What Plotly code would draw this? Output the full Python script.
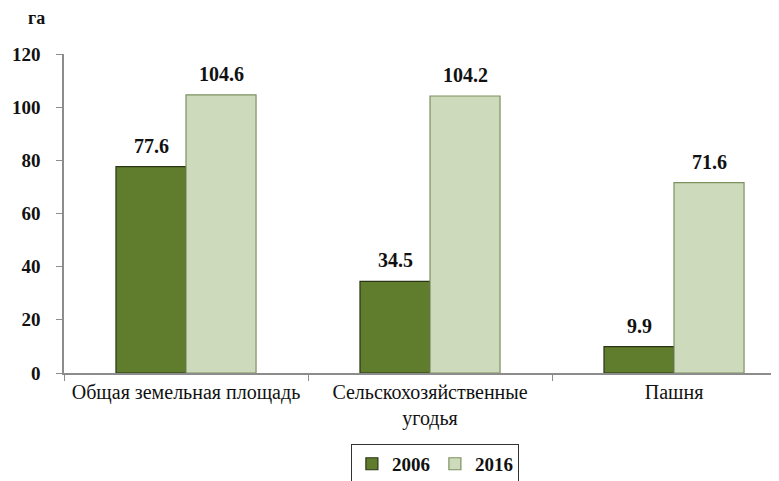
import plotly.graph_objects as go

categories = ["Общая земельная площадь", "Сельскохозяйственные<br>угодья", "Пашня"]
values_2006 = [77.6, 34.5, 9.9]
values_2016 = [104.6, 104.2, 71.6]
y_ticks = [0, 20, 40, 60, 80, 100, 120]

serif = "Times New Roman, Liberation Serif, serif"

fig = go.Figure()
fig.add_trace(go.Bar(
    x=categories, y=values_2006, name="2006",
    marker=dict(color="#5f7d2d", line=dict(color="#2b3516", width=1.2)),
))
fig.add_trace(go.Bar(
    x=categories, y=values_2016, name="2016",
    marker=dict(color="#cddabb", line=dict(color="#7d9160", width=1.2)),
))

# value labels above the bars
annotations = []
for shift, vals in ((-35, values_2006), (35, values_2016)):
    for cat, v in zip(categories, vals):
        annotations.append(dict(
            x=cat, y=v, xref="x", yref="y", text=f"<b>{v:.1f}</b>",
            showarrow=False, xshift=shift, yshift=21,
            font=dict(family=serif, size=20, color="#111"),
        ))
annotations.append(dict(
    x=-0.0387, y=1.113, xref="paper", yref="paper", text="<b>га</b>",
    showarrow=False, xanchor="center", yanchor="middle",
    font=dict(family=serif, size=18, color="#111"),
))

fig.update_layout(
    width=779, height=481,
    margin=dict(l=56, r=0, t=46, b=116, autoexpand=False),
    paper_bgcolor="white", plot_bgcolor="white",
    barmode="group", bargap=0.426, bargroupgap=0,
    font=dict(family=serif, color="#111"),
    annotations=annotations,
    showlegend=True,
    legend=dict(
        orientation="h", x=0.513, y=-0.285, xanchor="center", yanchor="middle",
        bordercolor="#333", borderwidth=1,
        font=dict(family=serif, size=19, color="#111", weight="bold"),
        itemwidth=30, tracegroupgap=0,
    ),
    xaxis=dict(
        range=[-0.5, 2.463], showline=True, linecolor="#8c8c8c", linewidth=1.5,
        ticks="outside", tickson="boundaries", ticklen=6, tickcolor="#8c8c8c",
        tickfont=dict(family=serif, size=20, color="#111"),
        showgrid=False, zeroline=False, automargin=False,
    ),
    yaxis=dict(
        range=[0, 120], tickvals=y_ticks, showline=True, linecolor="#8c8c8c",
        linewidth=1.5, ticks="outside", ticklen=6, tickcolor="#8c8c8c",
        tickfont=dict(family=serif, size=19, color="#111", weight="bold"),
        ticklabelstandoff=12,
        showgrid=False, zeroline=False, automargin=False,
    ),
)

fig.write_html("out.html")
